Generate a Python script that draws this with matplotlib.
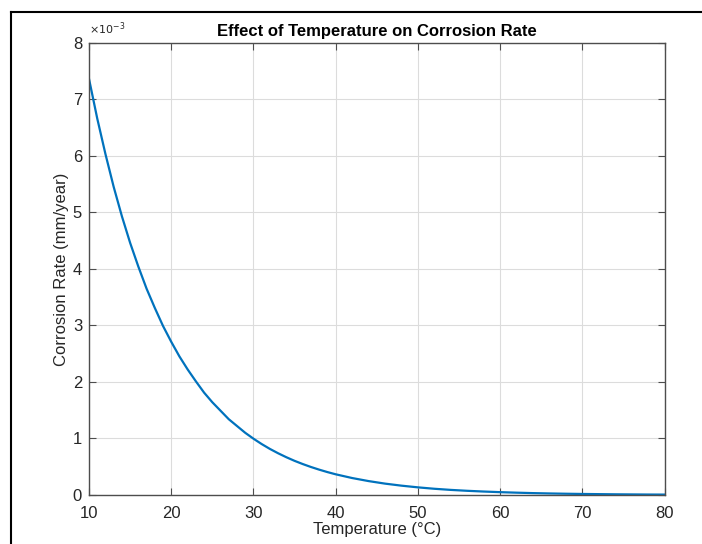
import matplotlib
matplotlib.use("Agg")
import matplotlib.pyplot as plt
from matplotlib.lines import Line2D

# temperature (°C) and corrosion rate (x1e-3 mm/year)
temperature = [10, 11, 12, 13, 14, 15, 16, 17, 18, 19, 20, 21, 22, 23, 24, 25, 26, 27,
               28, 29, 30, 31, 32, 33, 34, 35, 36, 37, 38, 39, 40, 42, 44, 46, 48, 50,
               52, 54, 56, 58, 60, 62, 64, 66, 68, 70, 72, 74, 76, 78, 80]
rate_e3 = [7.36, 6.66, 6.03, 5.45, 4.93, 4.46, 4.04, 3.65, 3.31, 2.99, 2.71, 2.45,
           2.22, 2.01, 1.81, 1.64, 1.49, 1.34, 1.22, 1.10, 0.996, 0.901, 0.815, 0.738,
           0.668, 0.604, 0.547, 0.495, 0.448, 0.405, 0.366, 0.300, 0.246, 0.201, 0.165,
           0.135, 0.110, 0.090, 0.074, 0.061, 0.050, 0.041, 0.033, 0.027, 0.022, 0.018,
           0.015, 0.012, 0.010, 0.008, 0.007]
rate = [v * 1e-3 for v in rate_e3]
xticks = [10, 20, 30, 40, 50, 60, 70, 80]
yticks = [0, 1, 2, 3, 4, 5, 6, 7, 8]

plt.rcParams.update({"font.family": ["Liberation Sans", "DejaVu Sans"]})
AX_COL = "#4d4d4d"
TXT = "#262626"

fig = plt.figure(figsize=(7.02, 5.44), dpi=100)
fig.patch.set_facecolor("white")
ax = fig.add_axes([0.1268, 0.0901, 0.8198, 0.8314])

ax.plot(temperature, rate, color="#0072BD", linewidth=1.6)
ax.set_xlim(10, 80)
ax.set_ylim(0, 8e-3)
ax.set_xticks(xticks)
ax.set_xticklabels([str(t) for t in xticks])
ax.set_yticks([v * 1e-3 for v in yticks])
ax.set_yticklabels([str(v) for v in yticks])

ax.grid(True, color="#dcdcdc", linewidth=0.8)
ax.set_axisbelow(True)
for s in ax.spines.values():
    s.set_color(AX_COL)
    s.set_linewidth(1.0)
ax.tick_params(direction="in", length=5, width=0.8, color=AX_COL, labelcolor=TXT,
               labelsize=12, top=True, right=True)
ax.tick_params(axis="x", pad=8)
ax.tick_params(axis="y", pad=5)

ax.set_title("Effect of Temperature on Corrosion Rate", fontsize=12, fontweight="bold",
             color="black", pad=5)
ax.set_xlabel("Temperature (°C)", fontsize=12, color=TXT, labelpad=0.5)
ax.set_ylabel("Corrosion Rate (mm/year)", fontsize=12, color=TXT, labelpad=2.5)
ax.text(0.0, 1.012, r"$\times10^{-3}$", transform=ax.transAxes, fontsize=8,
        color=TXT, ha="left", va="bottom")

# screenshot frame (left and top edge only, rest is cropped)
fig.add_artist(Line2D([0.0157, 0.0157], [0.0, 0.978], color="black", linewidth=1.5,
                      transform=fig.transFigure))
fig.add_artist(Line2D([0.0157, 1.0], [0.978, 0.978], color="black", linewidth=1.5,
                      transform=fig.transFigure))

fig.savefig("out.png", dpi=100, facecolor="white")
